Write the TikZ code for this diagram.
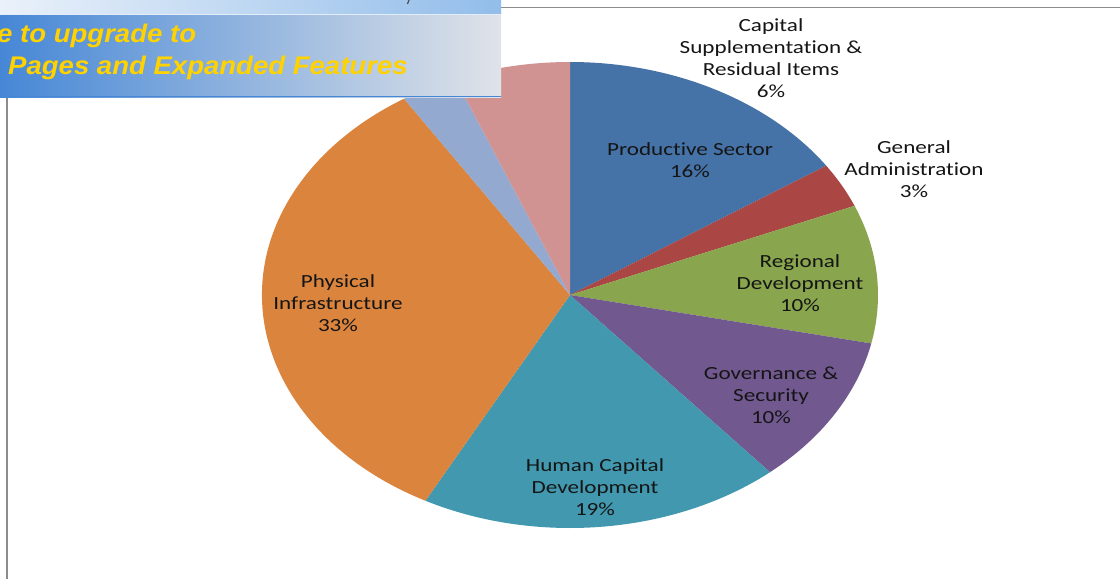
\documentclass[tikz,border=0pt]{standalone}
\usepackage{fontspec}
\newfontfamily\lab[FakeStretch=1.25, Ligatures=NoCommon]{Carlito}
\newfontfamily\ban[FakeStretch=1.08]{Liberation Sans}
\definecolor{cprod}{HTML}{4572A7}
\definecolor{cga}{HTML}{AA4643}
\definecolor{creg}{HTML}{89A54E}
\definecolor{cgov}{HTML}{71588F}
\definecolor{chum}{HTML}{4198AF}
\definecolor{cphys}{HTML}{DB843D}
\definecolor{clb}{HTML}{93A9CF}
\definecolor{cpink}{HTML}{D19392}
\definecolor{labtxt}{HTML}{151515}
\definecolor{banyel}{HTML}{FFD200}
\definecolor{banblue}{HTML}{4687D6}
\definecolor{bangray}{HTML}{E0E3E8}
\definecolor{stripl}{HTML}{EAF1FA}
\definecolor{stripr}{HTML}{92BDEA}
\newcommand\pieslice[3]{\fill[#3] (c) -- ++(#1:308pt and 233pt) arc[start angle=#1, end angle=#2, x radius=308pt, y radius=233pt] -- cycle;}
\begin{document}
\begin{tikzpicture}[x=1pt,y=-1pt,
  lbl/.style={font=\lab\fontsize{18.5}{22}\selectfont, text=labtxt, align=center, inner sep=0pt},
  bantext/.style={font=\ban\bfseries\itshape\fontsize{25.5}{30}\selectfont, text=banyel, inner sep=0pt, anchor=base west},
  frameline/.style={draw=black!45, line width=1.5pt}]
\useasboundingbox (0,0) rectangle (1120,579);
\clip (0,0) rectangle (1120,579);
\fill[white] (0,0) rectangle (1120,579);
% frame lines
\draw[frameline] (501,7.5) -- (1120,7.5);
\draw[frameline] (7,97) -- (7,579);
% pie
\coordinate (c) at (570,295);
\pieslice{90}{33.7}{cprod}
\pieslice{33.7}{22.5}{cga}
\pieslice{22.5}{-12}{creg}
\pieslice{-12}{-49.5}{cgov}
\pieslice{-49.5}{-118}{chum}
\pieslice{-118}{-237.4}{cphys}
\pieslice{-237.4}{-248.1}{clb}
\pieslice{-248.1}{-270}{cpink}
% labels
\node[lbl] (cap) at (771,58.5) {Capital\\Supplementation \&\\Residual Items\\6\%};
\node[lbl] (prod) at (690,160) {Productive Sector\\16\%};
\node[lbl] (ga) at (914,169.5) {General\\Administration\\3\%};
\node[lbl] (reg) at (800,283.5) {Regional\\Development\\10\%};
\node[lbl] (gov) at (771,395) {Governance \&\\Security\\10\%};
\node[lbl] (hum) at (595,487) {Human Capital\\Development\\19\%};
\node[lbl] (phys) at (338,303.5) {Physical\\Infrastructure\\33\%};
% banner
\shade[left color=stripl, right color=stripr] (0,0) rectangle (501,14);
\shade[left color=banblue, right color=bangray] (0,14) rectangle (501,97);
\draw[white!85!banblue, line width=1pt] (0,14.5) -- (501,14.5);
\draw[banblue, line width=1.5pt] (0,96.5) -- (501,96.5);
\draw[black!70, line width=1.2pt] (409,0) -- (407.5,4);
\node[bantext] (b1) at (-3,42) {e to upgrade to};
\node[bantext] (b2) at (8,74) {Pages and Expanded Features};
\end{tikzpicture}
\end{document}
